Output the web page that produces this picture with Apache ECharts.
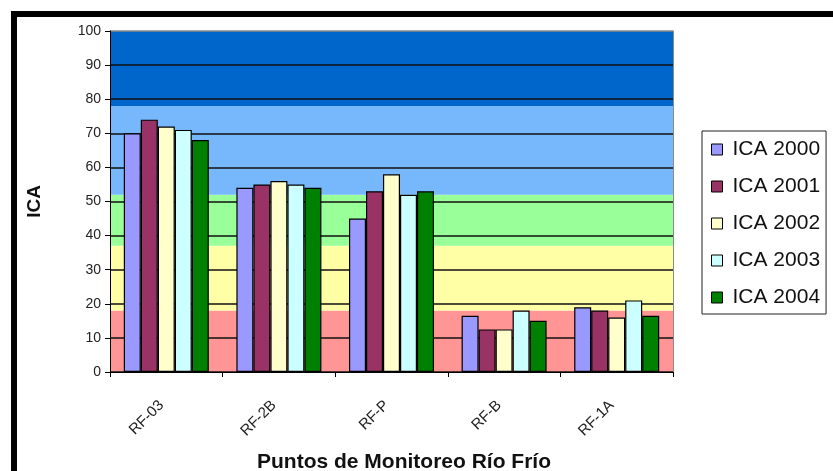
<!DOCTYPE html>
<html>
<head>
<meta charset="utf-8">
<script src="https://cdn.jsdelivr.net/npm/echarts@6/dist/echarts.min.js"></script>
<style>
html,body{margin:0;padding:0;background:#fff;}
#c{width:833px;height:471px;}
</style>
</head>
<body>
<div id="c"></div>
<script>
// ---- data ----
var categories = ['RF-03', 'RF-2B', 'RF-P', 'RF-B', 'RF-1A'];
var seriesNames = ['ICA 2000', 'ICA 2001', 'ICA 2002', 'ICA 2003', 'ICA 2004'];
var ica2000 = [70, 54, 45, 16.5, 19];
var ica2001 = [74, 55, 53, 12.5, 18];
var ica2002 = [72, 56, 58, 12.5, 16];
var ica2003 = [71, 55, 52, 18, 21];
var ica2004 = [68, 54, 53, 15, 16.5];
var bandLimits = [[0, 18], [18, 37], [37, 52], [52, 78], [78, 100]];
var yTicks = [0, 10, 20, 30, 40, 50, 60, 70, 80, 90, 100];

// ---- styles ----
var seriesColors = ['#9999ff', '#993366', '#ffffcc', '#ccffff', '#008000'];
var bandColors = ['#ff9595', '#ffffa6', '#99ff99', '#77b8fc', '#0066cc'];
var FONT = 'Liberation Sans, Arial, sans-serif';

var values = [ica2000, ica2001, ica2002, ica2003, ica2004];

var splitColors = yTicks.map(function (t, i) { return i === yTicks.length - 1 ? '#8a8a8a' : '#111'; });

var series = seriesNames.map(function (name, i) {
  var s = {
    name: name,
    type: 'bar',
    data: values[i],
    barGap: '0%',
    barCategoryGap: '24.5%',
    itemStyle: { color: seriesColors[i], borderColor: '#000', borderWidth: 1.2 },
    emphasis: { disabled: true }
  };
  if (i === 0) {
    s.markArea = {
      silent: true,
      z: 1,
      data: bandLimits.map(function (b, k) {
        return [{ yAxis: b[0], itemStyle: { color: bandColors[k], opacity: 1 } }, { yAxis: b[1] }];
      })
    };
  }
  return s;
});

var chart = echarts.init(document.getElementById('c'), null, { renderer: 'canvas' });
chart.setOption({
  animation: false,
  backgroundColor: '#fff',
  grid: { left: 110, right: 160, top: 31, bottom: 99, containLabel: false, outerBoundsMode: 'none' },
  legend: {
    orient: 'vertical',
    left: 702,
    top: 131,
    padding: [8, 6, 6, 9],
    itemGap: 16,
    itemWidth: 11,
    itemHeight: 11,
    icon: 'rect',
    borderColor: '#222',
    borderWidth: 1,
    itemStyle: { borderColor: '#000', borderWidth: 1 },
    textStyle: { fontFamily: FONT, fontSize: 21, lineHeight: 20, color: '#111', padding: [0, 0, 0, 5] },
    data: seriesNames
  },
  xAxis: {
    type: 'category',
    data: categories,
    name: 'Puntos de Monitoreo Río Frío',
    nameLocation: 'middle',
    nameGap: 80,
    nameTextStyle: { fontFamily: FONT, fontSize: 21, fontWeight: 'bold', color: '#111', padding: [0, 0, 0, 25] },
    axisLine: { lineStyle: { color: '#000', width: 1 } },
    axisTick: { show: true, length: 5, lineStyle: { color: '#000' } },
    axisLabel: { rotate: 45, margin: 26, padding: [0, 7, 0, 0], fontFamily: FONT, fontSize: 15, color: '#222' },
    z: 3
  },
  yAxis: [{
    type: 'value',
    min: 0,
    max: 100,
    interval: 10,
    name: 'ICA',
    nameLocation: 'middle',
    nameRotate: 90,
    nameGap: 66,
    nameTextStyle: { fontFamily: FONT, fontSize: 19, fontWeight: 'bold', color: '#111' },
    axisLine: { show: true, lineStyle: { color: '#000', width: 1 } },
    axisTick: { show: true, length: 5, lineStyle: { color: '#000' } },
    axisLabel: { margin: 9, fontFamily: FONT, fontSize: 14, color: '#222' },
    splitLine: { show: true, lineStyle: { color: splitColors, width: 1.5 } },
    z: 1.5
  }, {
    type: 'value',
    min: 0,
    max: 100,
    interval: 10,
    position: 'right',
    axisLine: { show: true, lineStyle: { color: '#8a8a8a', width: 1 } },
    axisTick: { show: false },
    axisLabel: { show: false },
    splitLine: { show: false },
    z: 1.5
  }],
  graphic: [{
    type: 'rect',
    silent: true,
    shape: { x: 14, y: 14, width: 900, height: 600 },
    style: { fill: 'none', stroke: '#000', lineWidth: 6 },
    z: 10
  }],
  series: series
});
</script>
</body>
</html>
